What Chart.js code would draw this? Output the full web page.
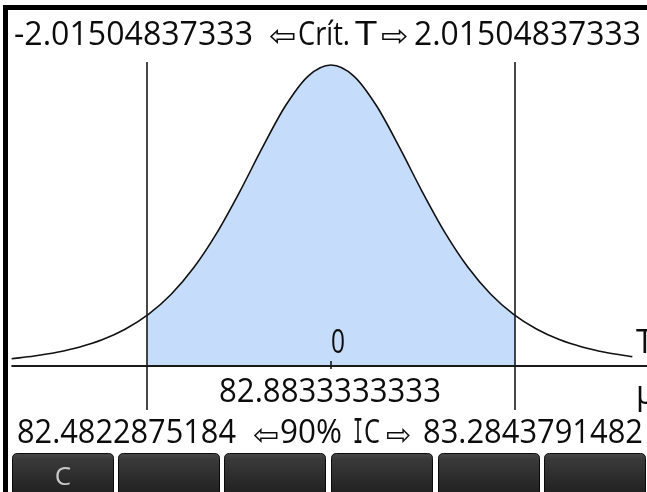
<!DOCTYPE html>
<html>
<head>
<meta charset="utf-8">
<script src="https://cdn.jsdelivr.net/npm/chart.js@4/dist/chart.umd.min.js"></script>
<style>
  html, body { margin: 0; padding: 0; background: #ffffff; }
  #wrap { width: 647px; height: 492px; }
</style>
</head>
<body>
<div id="wrap"><canvas id="c" width="647" height="492"></canvas></div>
<script>
// ---- data ----
const tValues = [-3.5, -3.25, -3.0, -2.75, -2.5, -2.25, -2.0, -1.75, -1.5, -1.25, -1.0, -0.75, -0.5, -0.25, 0,
                 0.25, 0.5, 0.75, 1.0, 1.25, 1.5, 1.75, 2.0, 2.25, 2.5, 2.75, 3.0, 3.25, 3.3];
const density = [0.0092, 0.0126, 0.0173, 0.0239, 0.0333, 0.0466, 0.0651, 0.0905, 0.1245, 0.1679, 0.2197, 0.2757, 0.3279, 0.3657, 0.3796,
                 0.3657, 0.3279, 0.2757, 0.2197, 0.1679, 0.1245, 0.0905, 0.0651, 0.0466, 0.0333, 0.0239, 0.0173, 0.0126, 0.0118];
const critT = 2.01504837333;
const critDensity = 0.0638;
const meanValue = "82.8833333333";
const ciLow = "82.4822875184";
const ciHigh = "83.2843791482";
const critText = ["-2.01504837333", "Crít.", "T", "2.01504837333"];
const ciText = ["90%", "I", "C"];
const axisLabels = ["0", "T", "μ"];
const buttonLabels = ["C", "", "", "", "", ""];

// ---- build datasets ----
const curvePts = tValues.map((t, i) => ({ x: t, y: density[i] }));
const fillPts = [{ x: -critT, y: critDensity }]
  .concat(curvePts.filter(p => Math.abs(p.x) < critT))
  .concat([{ x: critT, y: critDensity }]);

const FONT = '"Open Sans", "DejaVu Sans", sans-serif';
const ARROWFONT = '"DejaVu Sans", sans-serif';
const MONO = '"DejaVu Sans Mono", monospace';
const TXT = '#0c0c0c';

function fitText(ctx, text, x0, x1, baseline, size, font, color) {
  ctx.save();
  ctx.font = size + 'px ' + font;
  ctx.fillStyle = color || TXT;
  ctx.textAlign = 'left';
  ctx.textBaseline = 'alphabetic';
  const w = ctx.measureText(text).width;
  ctx.translate(x0, baseline);
  ctx.scale((x1 - x0) / w, 1);
  ctx.fillText(text, 0, 0);
  ctx.restore();
}

// draws a glyph so that its visible ink box fills [x0,x1] x [y0,y1]
function fitGlyph(ctx, text, x0, x1, y0, y1, size, font, color) {
  ctx.save();
  ctx.font = size + 'px ' + font;
  ctx.fillStyle = color || TXT;
  ctx.textAlign = 'left';
  ctx.textBaseline = 'alphabetic';
  const m = ctx.measureText(text);
  const inkL = -m.actualBoundingBoxLeft, inkR = m.actualBoundingBoxRight;
  const inkT = -m.actualBoundingBoxAscent, inkB = m.actualBoundingBoxDescent;
  const sx = (x1 - x0) / (inkR - inkL);
  const sy = (y1 - y0) / (inkB - inkT);
  ctx.translate(x0 - inkL * sx, y0 - inkT * sy);
  ctx.scale(sx, sy);
  ctx.fillText(text, 0, 0);
  ctx.restore();
}

function roundRect(ctx, x, y, w, h, r) {
  ctx.beginPath();
  ctx.moveTo(x + r, y);
  ctx.lineTo(x + w - r, y);
  ctx.quadraticCurveTo(x + w, y, x + w, y + r);
  ctx.lineTo(x + w, y + h - r);
  ctx.quadraticCurveTo(x + w, y + h, x + w - r, y + h);
  ctx.lineTo(x + r, y + h);
  ctx.quadraticCurveTo(x, y + h, x, y + h - r);
  ctx.lineTo(x, y + r);
  ctx.quadraticCurveTo(x, y, x + r, y);
  ctx.closePath();
}

const bgPlugin = {
  id: 'bg',
  beforeDraw(chart) {
    const ctx = chart.ctx;
    ctx.save();
    ctx.fillStyle = '#ffffff';
    ctx.fillRect(0, 0, chart.width, chart.height);
    ctx.restore();
  }
};

const screenPlugin = {
  id: 'screen',
  afterDatasetsDraw(chart) {
    const ctx = chart.ctx;
    const xs = chart.scales.x, ys = chart.scales.y;
    const x0 = ys.getPixelForValue(0);
    const xl = xs.getPixelForValue(-critT), xr = xs.getPixelForValue(critT), xc = xs.getPixelForValue(0);
    const yTop = chart.chartArea.top;
    ctx.save();
    // axis
    ctx.strokeStyle = '#1a1a1a';
    ctx.lineWidth = 2;
    ctx.beginPath();
    ctx.moveTo(xs.getPixelForValue(tValues[0]), x0);
    ctx.lineTo(chart.width, x0);
    ctx.stroke();
    // critical lines
    ctx.lineWidth = 1.6;
    ctx.beginPath();
    ctx.moveTo(xl, yTop); ctx.lineTo(xl, 410);
    ctx.moveTo(xr, yTop); ctx.lineTo(xr, 410);
    ctx.stroke();
    // zero tick
    ctx.beginPath();
    ctx.moveTo(xc, x0 - 5); ctx.lineTo(xc, x0 + 3);
    ctx.stroke();
    ctx.restore();

    // top line: critical T values
    fitText(ctx, critText[0], 14, 253, 45, 33, FONT);
    fitGlyph(ctx, '\u21E6', 270, 295, 28, 44, 34, ARROWFONT);
    fitText(ctx, critText[1], 298, 350, 45, 33, FONT);
    fitText(ctx, critText[2], 355, 377, 45, 33, FONT);
    fitGlyph(ctx, '\u21E8', 382, 407, 28, 44, 34, ARROWFONT);
    fitText(ctx, critText[3], 414, 641, 45, 33, FONT);

    // axis labels
    fitText(ctx, axisLabels[0], 331, 345, 353, 32, FONT);
    ctx.save();
    ctx.font = '32px ' + FONT; ctx.fillStyle = TXT; ctx.textBaseline = 'alphabetic';
    ctx.fillText(axisLabels[1], 636, 353);
    ctx.fillText(axisLabels[2], 636, 404);
    ctx.restore();

    fitText(ctx, meanValue, 219, 441, 402, 32, FONT);

    // bottom line: confidence interval
    fitText(ctx, ciLow, 17, 236, 443, 33, FONT);
    fitGlyph(ctx, '\u21E6', 254, 278, 427, 443, 34, ARROWFONT);
    fitText(ctx, ciText[0], 280, 342, 443, 33, FONT);
    fitText(ctx, ciText[1], 353, 363, 443, 33, MONO);
    fitText(ctx, ciText[2], 364, 380, 443, 33, FONT);
    fitGlyph(ctx, '\u21E8', 387, 410, 427, 443, 34, ARROWFONT);
    fitText(ctx, ciHigh, 423, 643, 443, 33, FONT);

    // borders
    ctx.save();
    ctx.fillStyle = '#000000';
    ctx.fillRect(3, 5, chart.width - 3, 5);
    ctx.fillRect(3, 5, 5, chart.height - 5);
    ctx.restore();

    // soft-key buttons
    const starts = [12, 118, 224, 331, 438, 544];
    ctx.save();
    starts.forEach((bx, i) => {
      const w = 101, y = 453, h = 45;
      const g = ctx.createLinearGradient(0, y, 0, y + 39);
      g.addColorStop(0, '#4a4a4a');
      g.addColorStop(0.15, '#3a3a3a');
      g.addColorStop(1, '#222222');
      roundRect(ctx, bx + 0.5, y + 0.5, w, h, 5);
      ctx.fillStyle = g;
      ctx.fill();
      ctx.strokeStyle = '#0a0a0a';
      ctx.lineWidth = 1;
      ctx.stroke();
      if (buttonLabels[i]) {
        ctx.font = '26px ' + FONT;
        ctx.fillStyle = '#c8c8c8';
        ctx.textAlign = 'center';
        ctx.textBaseline = 'alphabetic';
        ctx.fillText(buttonLabels[i], bx + 51, 485);
      }
    });
    ctx.restore();
  }
};

new Chart(document.getElementById('c'), {
  type: 'line',
  data: {
    datasets: [
      {
        data: curvePts,
        borderColor: '#111111',
        borderWidth: 1.6,
        pointRadius: 0,
        fill: false,
        cubicInterpolationMode: 'monotone',
        order: 0
      },
      {
        data: fillPts,
        borderWidth: 0,
        borderColor: 'rgba(0,0,0,0)',
        backgroundColor: '#c5dcfb',
        pointRadius: 0,
        fill: 'origin',
        cubicInterpolationMode: 'monotone',
        order: 1
      }
    ]
  },
  options: {
    responsive: false,
    animation: false,
    devicePixelRatio: 1,
    layout: { padding: { left: 11.4, right: 0, top: 62, bottom: 126 } },
    plugins: { legend: { display: false }, tooltip: { enabled: false }, title: { display: false } },
    scales: {
      x: { type: 'linear', min: -3.5, max: 3.4607, display: false },
      y: { type: 'linear', min: 0, max: 0.3834, display: false }
    }
  },
  plugins: [bgPlugin, screenPlugin]
});
</script>
</body>
</html>
